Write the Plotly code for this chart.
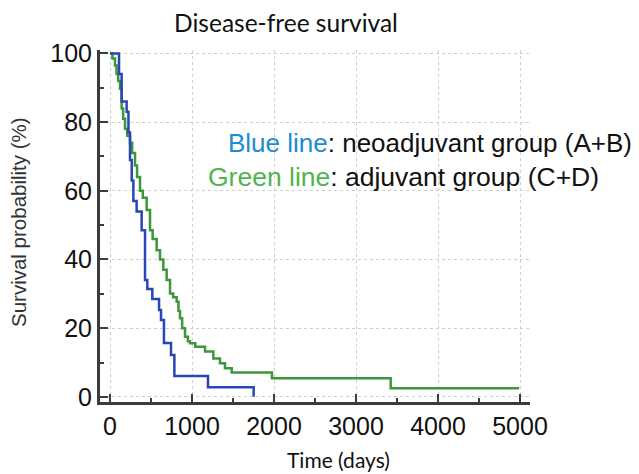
import plotly.graph_objects as go

# Blue line: neoadjuvant group (A+B) - event times (days) and survival (%) after each step
blue_t = [0, 110, 142, 203, 225, 244, 265, 285, 325, 386, 427, 455, 516, 598, 622, 658, 744, 785, 1195, 1752, 1752]
blue_s = [100, 94, 86, 83, 77, 69, 63, 57, 54, 48.5, 34, 31.4, 28.5, 25.3, 22.4, 15.7, 12.2, 6.1, 2.8, 2.8, 0]

# Green line: adjuvant group (C+D)
green_t = [0, 30, 61, 80, 100, 122, 142, 160, 183, 210, 244, 270, 305, 330, 366, 400, 447, 488,
           520, 569, 610, 650, 691, 732, 770, 813, 835, 854, 880, 915, 950, 976, 1040, 1159,
           1260, 1341, 1402, 1484, 1975, 3423, 4990]
green_s = [100, 98.5, 96.5, 94, 92, 89.7, 84, 81, 78, 76, 74, 71, 67.4, 64, 60, 58, 54.4, 48.5,
           46, 42.7, 40, 37, 34, 30.1, 29, 27.7, 25, 22.9, 20, 17.5, 16.2, 15.6, 14.6, 13.2,
           11.2, 9.8, 8.3, 7.1, 5.4, 2.5, 2.5]

x_ticks = [0, 1000, 2000, 3000, 4000, 5000]
y_ticks = [0, 20, 40, 60, 80, 100]

fig = go.Figure()
fig.add_trace(go.Scatter(x=green_t, y=green_s, mode="lines", line_shape="hv",
                         line=dict(color="rgb(60,150,60)", width=2.5), showlegend=False))
fig.add_trace(go.Scatter(x=blue_t, y=blue_s, mode="lines", line_shape="hv",
                         line=dict(color="rgb(40,70,180)", width=2.5), showlegend=False))

axis_common = dict(
    showline=True, linecolor="#3c3c3c", linewidth=3,
    ticks="inside", ticklen=8, tickwidth=2, tickcolor="#3c3c3c",
    showgrid=True, gridcolor="#cfcfcf", griddash="dot", gridwidth=1,
    zeroline=False,
    tickfont=dict(family="Liberation Sans, Arial", size=25, color="#111"),
)

fig.update_xaxes(range=[-122, 5122], tickvals=x_ticks,
                 minor=dict(ticks="inside", ticklen=4, tickwidth=1.5, tickcolor="#3c3c3c",
                            dtick=500, tick0=0, showgrid=False),
                 **axis_common)
fig.update_yaxes(range=[-1.5, 101], tickvals=y_ticks,
                 minor=dict(ticks="inside", ticklen=4, tickwidth=1.5, tickcolor="#3c3c3c",
                            dtick=10, tick0=0, showgrid=False),
                 **axis_common)

fig.update_layout(
    width=639, height=474,
    margin=dict(l=100, r=109, t=50, b=72),
    paper_bgcolor="white", plot_bgcolor="white",
    title=dict(text="Disease-free survival", x=286 / 639, xanchor="center",
               y=1 - 23 / 474, yanchor="middle",
               font=dict(family="Lato, Open Sans", size=24.5, color="#111")),
    annotations=[
        dict(text="<span style='color:rgb(30,140,210)'>Blue line</span>: neoadjuvant group (A+B)",
             xref="paper", yref="paper", x=(226 - 100) / 430, y=(402 - 143) / 352,
             xanchor="left", yanchor="middle", showarrow=False,
             font=dict(family="Liberation Sans, Arial", size=26, color="#111")),
        dict(text="<span style='color:rgb(80,180,80)'>Green line</span>: adjuvant group (C+D)",
             xref="paper", yref="paper", x=(206 - 100) / 430, y=(402 - 177) / 352,
             xanchor="left", yanchor="middle", showarrow=False,
             font=dict(family="Liberation Sans, Arial", size=26.5, color="#111")),
        dict(text="Time (days)", xref="paper", yref="paper",
             x=(338 - 100) / 430, y=(402 - 459) / 352, xanchor="center", yanchor="middle",
             showarrow=False, font=dict(family="Lato, Open Sans", size=21, color="#111")),
        dict(text="Survival probability (%)", xref="paper", yref="paper", textangle=-90,
             x=(18 - 100) / 430, y=(402 - 222) / 352, xanchor="center", yanchor="middle",
             showarrow=False, font=dict(family="Liberation Sans, Arial", size=20.5, color="#333")),
    ],
)

fig.write_html("out.html")
